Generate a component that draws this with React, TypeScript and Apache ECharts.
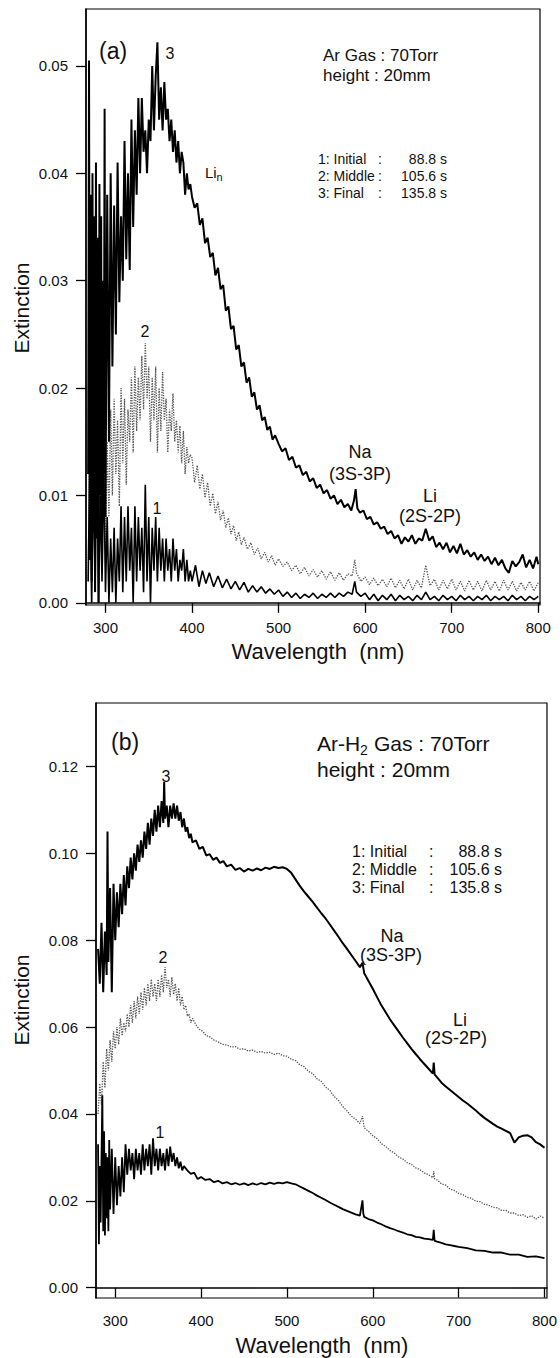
import React, { useEffect, useRef } from "react";
import * as echarts from "echarts";

// ---------- tick values ----------
const xTicks = [300, 400, 500, 600, 700, 800];
const yTicksA = [0, 0.01, 0.02, 0.03, 0.04, 0.05];
const yTicksB = [0, 0.02, 0.04, 0.06, 0.08, 0.1, 0.12];

// ---------- panel (a): Ar gas ----------
// [wavelength nm, extinction]
const a3: [number, number][] = [
  [280, 0.012], [281, 0.0505], [282, 0.004], [283, 0.038], [284, 0.002], [285, 0.040], [286, 0.008], [287, 0.036],
  [288, 0.001], [289, 0.041], [290, 0.006], [291, 0.034], [292, 0.000], [293, 0.039], [294, 0.010], [295, 0.036],
  [296, 0.003], [297, 0.030], [298, 0.012], [299, 0.046], [300, 0.008], [302, 0.038], [304, 0.015], [306, 0.040],
  [308, 0.022], [310, 0.037], [312, 0.025], [314, 0.041], [316, 0.028], [318, 0.036], [320, 0.030], [322, 0.043],
  [324, 0.032], [326, 0.040], [328, 0.031], [330, 0.045], [332, 0.035], [334, 0.044], [336, 0.038], [338, 0.047],
  [340, 0.040], [342, 0.047], [344, 0.042], [346, 0.044], [348, 0.040], [350, 0.045], [352, 0.043], [354, 0.050],
  [356, 0.044], [358, 0.049], [360, 0.0522], [362, 0.045], [364, 0.048], [366, 0.044], [368, 0.0485], [370, 0.045],
  [372, 0.046], [374, 0.043], [376, 0.045], [378, 0.042], [380, 0.044], [382, 0.041], [384, 0.043], [386, 0.040],
  [388, 0.042], [390, 0.041], [392, 0.038], [394, 0.040], [396, 0.0385], [398, 0.039], [400, 0.0378], [403, 0.0368],
  [406, 0.0372], [409, 0.0352], [412, 0.0358], [415, 0.0335], [418, 0.0340], [421, 0.0322], [424, 0.0326], [427, 0.0305],
  [430, 0.0312], [433, 0.0292], [436, 0.0296], [439, 0.0272], [442, 0.0276], [445, 0.0255], [448, 0.0258], [451, 0.0236],
  [454, 0.0240], [457, 0.0220], [460, 0.0224], [463, 0.0205], [466, 0.0210], [469, 0.0192], [472, 0.0196], [475, 0.0180],
  [478, 0.0184], [481, 0.0170], [484, 0.0173], [487, 0.0161], [490, 0.0164], [493, 0.0152], [496, 0.0156], [500, 0.0148],
  [504, 0.0141], [508, 0.0144], [512, 0.0133], [516, 0.0136], [520, 0.0126], [524, 0.0128], [528, 0.0119], [532, 0.0122],
  [536, 0.0113], [540, 0.0116], [544, 0.0107], [548, 0.0110], [552, 0.0102], [556, 0.0105], [560, 0.0097], [564, 0.0100],
  [568, 0.0092], [572, 0.0096], [576, 0.0089], [580, 0.0092], [584, 0.0086], [587, 0.0095], [589, 0.0106], [591, 0.0088],
  [594, 0.0084], [598, 0.0086], [602, 0.0078], [606, 0.0080], [610, 0.0073], [614, 0.0075], [618, 0.0069], [622, 0.0071],
  [626, 0.0064], [630, 0.0067], [634, 0.0060], [638, 0.0063], [642, 0.0055], [646, 0.0061], [650, 0.0057], [654, 0.0063],
  [658, 0.0055], [662, 0.0060], [666, 0.0058], [670, 0.0069], [674, 0.0058], [678, 0.0062], [682, 0.0052], [686, 0.0056],
  [690, 0.0050], [694, 0.0056], [698, 0.0047], [702, 0.0053], [706, 0.0046], [710, 0.0055], [714, 0.0045], [718, 0.0049],
  [722, 0.0043], [726, 0.0047], [730, 0.0040], [734, 0.0045], [738, 0.0039], [742, 0.0043], [746, 0.0036], [750, 0.0042],
  [754, 0.0035], [758, 0.0040], [762, 0.0032], [766, 0.0028], [770, 0.0039], [774, 0.0034], [778, 0.0038], [782, 0.0045],
  [786, 0.0033], [790, 0.0040], [794, 0.0032], [798, 0.0043], [800, 0.0036],
];

const a2: [number, number][] = [
  [280, 0.002], [282, 0.018], [284, 0.000], [286, 0.020], [288, 0.003], [290, 0.017], [292, 0.001], [294, 0.019],
  [296, 0.005], [298, 0.016], [300, 0.004], [302, 0.015], [304, 0.008], [306, 0.018], [308, 0.010], [310, 0.019],
  [312, 0.012], [314, 0.017], [316, 0.009], [318, 0.020], [320, 0.013], [322, 0.019], [324, 0.011], [326, 0.018],
  [328, 0.015], [330, 0.021], [332, 0.014], [334, 0.022], [336, 0.016], [338, 0.021], [340, 0.017], [342, 0.023],
  [344, 0.018], [346, 0.0242], [348, 0.019], [350, 0.022], [352, 0.015], [354, 0.021], [356, 0.017], [358, 0.022],
  [360, 0.014], [362, 0.020], [364, 0.016], [366, 0.0215], [368, 0.017], [370, 0.019], [372, 0.014], [374, 0.018],
  [376, 0.016], [378, 0.0195], [380, 0.015], [382, 0.017], [384, 0.014], [386, 0.0165], [388, 0.013], [390, 0.016],
  [392, 0.012], [394, 0.0145], [396, 0.013], [398, 0.0138], [400, 0.0135], [403, 0.0112], [406, 0.0128], [409, 0.0106],
  [412, 0.0120], [415, 0.0098], [418, 0.0112], [421, 0.0090], [424, 0.0102], [427, 0.0083], [430, 0.0094], [433, 0.0077],
  [436, 0.0086], [439, 0.0070], [442, 0.0079], [445, 0.0064], [448, 0.0072], [451, 0.0058], [454, 0.0066], [457, 0.0054],
  [460, 0.0061], [464, 0.0050], [468, 0.0056], [472, 0.0045], [476, 0.0051], [480, 0.0041], [484, 0.0047], [488, 0.0038],
  [492, 0.0044], [496, 0.0035], [500, 0.0041], [505, 0.0034], [510, 0.0038], [515, 0.0030], [520, 0.0035], [525, 0.0027],
  [530, 0.0033], [535, 0.0025], [540, 0.0031], [545, 0.0024], [550, 0.0030], [555, 0.0022], [560, 0.0029], [565, 0.0021],
  [570, 0.0028], [575, 0.0021], [580, 0.0027], [585, 0.0025], [588, 0.0040], [590, 0.0028], [595, 0.0020], [600, 0.0024],
  [605, 0.0017], [610, 0.0023], [615, 0.0016], [620, 0.0022], [625, 0.0015], [630, 0.0023], [635, 0.0014], [640, 0.0021],
  [645, 0.0013], [650, 0.0022], [655, 0.0012], [660, 0.0021], [665, 0.0014], [670, 0.0035], [675, 0.0016], [680, 0.0022],
  [685, 0.0012], [690, 0.0021], [695, 0.0013], [700, 0.0022], [705, 0.0012], [710, 0.0020], [715, 0.0011], [720, 0.0021],
  [725, 0.0012], [730, 0.0020], [735, 0.0011], [740, 0.0021], [745, 0.0012], [750, 0.0020], [755, 0.0011], [760, 0.0021],
  [765, 0.0012], [770, 0.0020], [775, 0.0011], [780, 0.0019], [785, 0.0012], [790, 0.0020], [795, 0.0011], [800, 0.0019],
];

const a1: [number, number][] = [
  [280, 0.002], [282, 0.014], [284, 0.000], [286, 0.012], [288, 0.001], [290, 0.015], [292, 0.000], [294, 0.010],
  [296, 0.002], [298, 0.013], [300, 0.001], [302, 0.008], [304, 0.000], [306, 0.006], [308, 0.001], [310, 0.007],
  [312, 0.000], [314, 0.006], [316, 0.002], [318, 0.009], [320, 0.001], [322, 0.008], [324, 0.002], [326, 0.009],
  [328, 0.003], [330, 0.007], [332, 0.000], [334, 0.009], [336, 0.002], [338, 0.008], [340, 0.003], [342, 0.007],
  [344, 0.001], [346, 0.011], [348, 0.002], [350, 0.008], [352, 0.000], [354, 0.007], [356, 0.003], [358, 0.008],
  [360, 0.002], [362, 0.007], [364, 0.003], [366, 0.006], [368, 0.002], [370, 0.006], [372, 0.003], [374, 0.005],
  [376, 0.002], [378, 0.006], [380, 0.003], [382, 0.005], [384, 0.002], [386, 0.004], [388, 0.003], [390, 0.005],
  [392, 0.002], [394, 0.004], [396, 0.002], [398, 0.003], [400, 0.002], [404, 0.0035], [408, 0.0015], [412, 0.003],
  [416, 0.0018], [420, 0.0028], [425, 0.0015], [430, 0.0025], [435, 0.0014], [440, 0.0022], [445, 0.0013], [450, 0.0020],
  [455, 0.0012], [460, 0.0019], [465, 0.0010], [470, 0.0016], [475, 0.0010], [480, 0.0015], [485, 0.0009], [490, 0.0013],
  [495, 0.0008], [500, 0.0012], [505, 0.0006], [510, 0.0010], [515, 0.0005], [520, 0.0009], [525, 0.0004], [530, 0.0008],
  [535, 0.0005], [540, 0.0009], [545, 0.0004], [550, 0.0008], [555, 0.0005], [560, 0.0009], [565, 0.0005], [570, 0.0009],
  [575, 0.0006], [580, 0.0010], [585, 0.0008], [588, 0.0020], [590, 0.0010], [595, 0.0006], [600, 0.0009], [605, 0.0003],
  [610, 0.0008], [615, 0.0002], [620, 0.0007], [625, 0.0003], [630, 0.0008], [635, 0.0002], [640, 0.0007], [645, 0.0003],
  [650, 0.0006], [655, 0.0002], [660, 0.0007], [665, 0.0003], [670, 0.0010], [675, 0.0003], [680, 0.0006], [685, 0.0002],
  [690, 0.0007], [695, 0.0003], [700, 0.0006], [705, 0.0002], [710, 0.0007], [715, 0.0003], [720, 0.0006], [725, 0.0002],
  [730, 0.0006], [735, 0.0003], [740, 0.0007], [745, 0.0002], [750, 0.0006], [755, 0.0003], [760, 0.0006], [765, 0.0002],
  [770, 0.0007], [775, 0.0003], [780, 0.0006], [785, 0.0002], [790, 0.0006], [795, 0.0003], [800, 0.0006],
];

// ---------- panel (b): Ar-H2 gas ----------
const b3: [number, number][] = [
  [280, 0.078], [282, 0.070], [284, 0.084], [286, 0.068], [288, 0.082], [290, 0.072], [291, 0.105], [292, 0.075],
  [294, 0.092], [296, 0.068], [298, 0.093], [300, 0.080], [302, 0.091], [304, 0.083], [306, 0.093], [308, 0.086],
  [310, 0.095], [312, 0.088], [314, 0.097], [316, 0.092], [318, 0.099], [320, 0.094], [322, 0.100], [324, 0.096],
  [326, 0.102], [328, 0.098], [330, 0.103], [332, 0.099], [334, 0.105], [336, 0.101], [338, 0.107], [340, 0.102],
  [342, 0.108], [344, 0.104], [346, 0.110], [348, 0.105], [350, 0.111], [352, 0.106], [354, 0.112], [356, 0.107],
  [357, 0.1164], [358, 0.108], [360, 0.111], [362, 0.106], [364, 0.111], [366, 0.108], [368, 0.1115], [370, 0.108],
  [372, 0.111], [374, 0.1075], [376, 0.1095], [378, 0.106], [380, 0.108], [382, 0.105], [384, 0.106], [386, 0.1035],
  [388, 0.1045], [390, 0.1025], [394, 0.1030], [398, 0.1010], [402, 0.1015], [406, 0.0995], [410, 0.0998], [414, 0.0985],
  [418, 0.0990], [422, 0.0978], [426, 0.0982], [430, 0.0970], [435, 0.0974], [440, 0.0962], [445, 0.0966], [450, 0.0958],
  [455, 0.0964], [460, 0.0960], [465, 0.0965], [470, 0.0961], [475, 0.0967], [480, 0.0964], [485, 0.0969], [490, 0.0966],
  [495, 0.0968], [500, 0.0964], [505, 0.0955], [510, 0.0940], [515, 0.0925], [520, 0.0912], [525, 0.0900], [530, 0.0888],
  [535, 0.0875], [540, 0.0862], [545, 0.0850], [550, 0.0836], [555, 0.0822], [560, 0.0808], [565, 0.0793], [570, 0.0780],
  [575, 0.0766], [580, 0.0752], [585, 0.0738], [588, 0.0748], [590, 0.0724], [595, 0.0706], [600, 0.0688], [605, 0.0669],
  [610, 0.0650], [615, 0.0634], [620, 0.0618], [625, 0.0604], [630, 0.0590], [635, 0.0576], [640, 0.0563], [645, 0.0550],
  [650, 0.0538], [655, 0.0526], [660, 0.0515], [665, 0.0504], [670, 0.0493], [671, 0.0518], [672, 0.0491], [675, 0.0484],
  [680, 0.0472], [685, 0.0463], [690, 0.0455], [695, 0.0447], [700, 0.0439], [705, 0.0431], [710, 0.0424], [715, 0.0416],
  [720, 0.0408], [725, 0.0399], [730, 0.0391], [735, 0.0384], [740, 0.0377], [745, 0.0371], [750, 0.0366], [755, 0.0361],
  [760, 0.0356], [765, 0.0334], [770, 0.0346], [775, 0.0350], [780, 0.0351], [785, 0.0346], [790, 0.0335], [795, 0.0330],
  [800, 0.0322],
];

const b2: [number, number][] = [
  [280, 0.040], [282, 0.047], [284, 0.042], [286, 0.052], [288, 0.046], [290, 0.055], [292, 0.050], [294, 0.057],
  [296, 0.052], [298, 0.059], [300, 0.055], [302, 0.060], [304, 0.056], [306, 0.062], [308, 0.058], [310, 0.061],
  [312, 0.059], [314, 0.063], [316, 0.060], [318, 0.065], [320, 0.061], [322, 0.066], [324, 0.062], [326, 0.067],
  [328, 0.063], [330, 0.068], [332, 0.064], [334, 0.069], [336, 0.065], [338, 0.070], [340, 0.066], [342, 0.071],
  [344, 0.067], [346, 0.070], [348, 0.066], [350, 0.071], [352, 0.067], [354, 0.072], [356, 0.068], [358, 0.0738],
  [360, 0.069], [362, 0.071], [364, 0.067], [366, 0.0715], [368, 0.0675], [370, 0.070], [372, 0.066], [374, 0.069],
  [376, 0.065], [378, 0.067], [380, 0.064], [382, 0.065], [384, 0.0625], [386, 0.063], [388, 0.061], [390, 0.062],
  [394, 0.0605], [398, 0.0595], [402, 0.0590], [406, 0.0580], [410, 0.0578], [415, 0.0570], [420, 0.0566], [425, 0.0560],
  [430, 0.0559], [435, 0.0554], [440, 0.0555], [445, 0.0549], [450, 0.0550], [455, 0.0545], [460, 0.0547], [465, 0.0542],
  [470, 0.0544], [475, 0.0540], [480, 0.0542], [485, 0.0537], [490, 0.0540], [495, 0.0534], [500, 0.0533], [505, 0.0526],
  [510, 0.0523], [515, 0.0513], [520, 0.0509], [525, 0.0498], [530, 0.0493], [535, 0.0481], [540, 0.0475], [545, 0.0462],
  [550, 0.0454], [555, 0.0440], [560, 0.0431], [565, 0.0417], [570, 0.0407], [575, 0.0395], [580, 0.0388], [585, 0.0378],
  [588, 0.0395], [590, 0.0368], [595, 0.0360], [600, 0.0350], [605, 0.0343], [610, 0.0332], [615, 0.0325], [620, 0.0316],
  [625, 0.0310], [630, 0.0301], [635, 0.0296], [640, 0.0288], [645, 0.0284], [650, 0.0276], [655, 0.0272], [660, 0.0264],
  [665, 0.0260], [670, 0.0253], [671, 0.0268], [672, 0.0251], [675, 0.0248], [680, 0.0239], [685, 0.0236], [690, 0.0227],
  [695, 0.0224], [700, 0.0217], [705, 0.0214], [710, 0.0208], [715, 0.0206], [720, 0.0199], [725, 0.0198], [730, 0.0192],
  [735, 0.0190], [740, 0.0185], [745, 0.0184], [750, 0.0178], [755, 0.0178], [760, 0.0172], [765, 0.0172], [770, 0.0166],
  [775, 0.0168], [780, 0.0162], [785, 0.0166], [790, 0.0158], [795, 0.0165], [800, 0.0160],
];

const b1: [number, number][] = [
  [280, 0.033], [281, 0.010], [282, 0.028], [283, 0.015], [284, 0.030], [285, 0.0443], [286, 0.013], [287, 0.036],
  [288, 0.012], [289, 0.031], [290, 0.016], [291, 0.030], [292, 0.013], [293, 0.034], [294, 0.018], [296, 0.032],
  [298, 0.017], [300, 0.030], [302, 0.019], [304, 0.028], [306, 0.021], [308, 0.030], [310, 0.022], [312, 0.033],
  [314, 0.026], [316, 0.032], [318, 0.027], [320, 0.031], [322, 0.025], [324, 0.032], [326, 0.027], [328, 0.031],
  [330, 0.026], [332, 0.033], [334, 0.027], [336, 0.032], [338, 0.028], [340, 0.033], [342, 0.026], [344, 0.0344],
  [346, 0.028], [348, 0.032], [350, 0.027], [352, 0.032], [354, 0.028], [356, 0.031], [358, 0.027], [360, 0.032],
  [362, 0.028], [364, 0.0325], [366, 0.029], [368, 0.031], [370, 0.028], [372, 0.030], [374, 0.0275], [376, 0.029],
  [378, 0.027], [380, 0.028], [384, 0.0270], [388, 0.0262], [392, 0.0265], [396, 0.0250], [400, 0.0255], [405, 0.0248],
  [410, 0.0250], [415, 0.0243], [420, 0.0246], [425, 0.0240], [430, 0.0243], [435, 0.0238], [440, 0.0241], [445, 0.0237],
  [450, 0.0240], [455, 0.0236], [460, 0.0240], [465, 0.0237], [470, 0.0241], [475, 0.0238], [480, 0.0242], [485, 0.0239],
  [490, 0.0242], [495, 0.0240], [500, 0.0243], [505, 0.0240], [510, 0.0238], [515, 0.0233], [520, 0.0228], [525, 0.0223],
  [530, 0.0218], [535, 0.0212], [540, 0.0207], [545, 0.0202], [550, 0.0196], [555, 0.0191], [560, 0.0186], [565, 0.0181],
  [570, 0.0177], [575, 0.0173], [580, 0.0169], [585, 0.0166], [588, 0.0201], [589, 0.0170], [590, 0.0163], [595, 0.0158],
  [600, 0.0155], [605, 0.0150], [610, 0.0146], [615, 0.0141], [620, 0.0137], [625, 0.0134], [630, 0.0130], [635, 0.0127],
  [640, 0.0123], [645, 0.0121], [650, 0.0117], [655, 0.0116], [660, 0.0113], [665, 0.0112], [670, 0.0110], [671, 0.0133],
  [672, 0.0108], [675, 0.0106], [680, 0.0103], [685, 0.0100], [690, 0.0098], [695, 0.0096], [700, 0.0094], [710, 0.0091],
  [720, 0.0086], [730, 0.0085], [740, 0.0081], [750, 0.0081], [760, 0.0076], [770, 0.0076], [780, 0.0071], [790, 0.0072],
  [800, 0.0068],
];

const FONT = "'Liberation Sans', Arial, Helvetica, sans-serif";

function txt(text: string, x: number, y: number, size: number, align = "left", extra: any = {}) {
  return {
    type: "text",
    x,
    y,
    silent: true,
    ...extra,
    style: {
      text,
      fontSize: size,
      fontFamily: FONT,
      fill: "#111",
      textAlign: align,
      textVerticalAlign: "middle",
      align,
      verticalAlign: "middle",
    },
  };
}

function legendLines(x0: number, xc: number, xr: number, ys: number[], size: number, labels: string[], values: string[]) {
  const out: any[] = [];
  ys.forEach((y, i) => {
    out.push(txt(labels[i], x0, y, size));
    out.push(txt(":", xc, y, size));
    out.push(txt(values[i], xr, y, size, "right"));
  });
  return out;
}

const legLabels = ["1: Initial", "2: Middle", "3: Final"];
const legValues = ["88.8 s", "105.6 s", "135.8 s"];

export default function App() {
  const ref = useRef<HTMLDivElement>(null);

  useEffect(() => {
    if (!ref.current) return;
    const chart = echarts.init(ref.current, undefined, { renderer: "svg" });

    const axisX = (gridIndex: number, min: number, max: number) => ({
      type: "value",
      gridIndex,
      min,
      max,
      axisLine: { show: true, lineStyle: { color: "#000", width: 1.5 } },
      axisTick: { show: true, length: 10, inside: false, customValues: xTicks, lineStyle: { color: "#000", width: 1.3 } },
      axisLabel: {
        customValues: xTicks,
        margin: 15,
        color: "#111",
        fontSize: 15,
        fontFamily: FONT,
        formatter: (v: number) => String(Math.round(v)),
      },
      splitLine: { show: false },
    });

    const axisY = (gridIndex: number, min: number, max: number, ticks: number[]) => ({
      type: "value",
      gridIndex,
      min,
      max,
      axisLine: { show: true, lineStyle: { color: "#000", width: 1.5 } },
      axisTick: { show: true, length: 10, inside: false, customValues: ticks, lineStyle: { color: "#000", width: 1.3 } },
      axisLabel: {
        customValues: ticks,
        margin: 18,
        color: "#111",
        fontSize: 15,
        fontFamily: FONT,
        formatter: (v: number) => v.toFixed(2),
      },
      splitLine: { show: false },
    });

    const line = (data: any, idx: number, color: string, width: number, type = "solid") => ({
      type: "line",
      xAxisIndex: idx,
      yAxisIndex: idx,
      data,
      symbol: "none",
      showSymbol: false,
      silent: true,
      lineStyle: { color, width, type },
    });

    chart.setOption({
      animation: false,
      backgroundColor: "#fff",
      grid: [
        { left: 86, top: 9, width: 454, height: 596, show: true, borderColor: "#000", borderWidth: 1.2, containLabel: false },
        { left: 96, top: 703, width: 453, height: 595, show: true, borderColor: "#000", borderWidth: 1.2, containLabel: false },
      ],
      xAxis: [axisX(0, 277.5, 802), axisX(1, 277.6, 802.9)],
      yAxis: [axisY(0, -0.0002, 0.0553, yTicksA), axisY(1, -0.00237, 0.1346, yTicksB)],
      series: [
        line(a2, 0, "#555", 1.3, "dotted"),
        line(a1, 0, "#000", 1.6),
        line(a3, 0, "#000", 2),
        line(b2, 1, "#555", 1.3, "dotted"),
        line(b1, 1, "#000", 1.8),
        line(b3, 1, "#000", 2),
      ],
      graphic: [
        // axis titles
        txt("Wavelength  (nm)", 318, 651, 22, "center"),
        txt("Wavelength  (nm)", 322, 1345, 22, "center"),
        txt("Extinction", 21, 308, 21, "center", { rotation: Math.PI / 2 }),
        txt("Extinction", 21, 1000, 21, "center", { rotation: Math.PI / 2 }),
        // panel (a)
        txt("(a)", 99, 51, 23),
        txt("3", 170, 53, 16, "center"),
        txt("Li", 205, 172, 15),
        txt("n", 216.5, 177, 11),
        txt("2", 145, 331, 16, "center"),
        txt("1", 157, 508, 16, "center"),
        txt("Na", 360, 452, 18, "center"),
        txt("(3S-3P)", 360, 474, 18, "center"),
        txt("Li", 430, 496, 18, "center"),
        txt("(2S-2P)", 430, 516, 18, "center"),
        txt("Ar Gas : 70Torr", 323, 55, 17),
        txt("height : 20mm", 323, 75, 17),
        ...legendLines(318, 378, 447, [159, 176, 193], 14, legLabels, legValues),
        // panel (b)
        txt("(b)", 111, 742, 23),
        txt("3", 166, 776, 16, "center"),
        txt("2", 163, 957, 16, "center"),
        txt("1", 160, 1132, 16, "center"),
        txt("Ar-H", 317, 743, 21),
        txt("2", 360, 750, 14),
        txt("Gas : 70Torr", 374, 743, 21),
        txt("height : 20mm", 317, 769, 21),
        ...legendLines(352, 429, 502, [851, 869, 887], 16, legLabels, legValues),
        txt("Na", 392, 936, 18, "center"),
        txt("(3S-3P)", 391, 955, 18, "center"),
        txt("Li", 460, 1020, 18, "center"),
        txt("(2S-2P)", 456, 1038, 18, "center"),
      ],
    });

    return () => chart.dispose();
  }, []);

  return (
    <div
      ref={ref}
      style={{ position: "absolute", left: 0, top: 0, width: 560, height: 1358, background: "#fff" }}
    />
  );
}
